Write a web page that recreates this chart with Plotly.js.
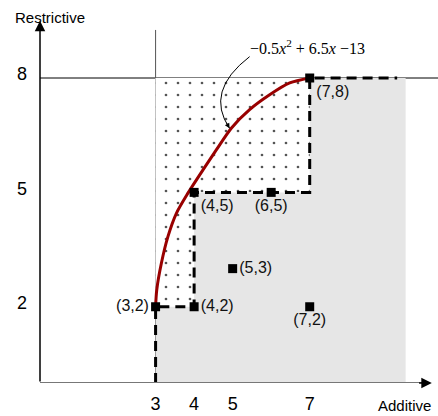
<!DOCTYPE html>
<html>
<head>
<meta charset="utf-8">
<script src="https://cdn.plot.ly/plotly-3.0.1.min.js"></script>
<style>
  html, body { margin: 0; padding: 0; background: #fff; }
  #chart { width: 438px; height: 416px; }
</style>
</head>
<body>
<div id="chart"></div>
<script>
// tick values
const xTicks = [3, 4, 5, 7];
const yTicks = [2, 5, 8];

// labelled points
const ptX = [3, 4, 4, 6, 5, 7, 7];
const ptY = [2, 2, 5, 5, 3, 2, 8];
const ptText = ["(3,2)", "(4,2)", "(4,5)", "(6,5)", "(5,3)", "(7,2)", "(7,8)"];
const ptPos = ["middle left", "middle right", "bottom right", "bottom center",
               "middle right", "bottom center", "bottom right"];

// dashed staircase boundary
const stairX = [3, 3, 4, 4, 7, 7, 9.27];
const stairY = [0, 2, 2, 5, 5, 8, 8];

// red curve
const curveX = [3, 3.03, 3.15, 3.32, 3.54, 3.84, 4.23, 4.58, 4.97, 5.44, 5.96, 6.48, 7];
const curveY = [2, 2.44, 3.14, 3.84, 4.45, 4.98, 5.59, 6.12, 6.69, 7.17, 7.56, 7.87, 8];

// grey region and dotted region
const greyX = [3, 9.49, 9.49, 3, 3];
const greyY = [0, 0, 8, 8, 0];
const dotX = [3, 4, 4, 7, 7, 3, 3];
const dotY = [2, 2, 5, 5, 8, 8, 2];

// guide lines
const topLineY = 8;
const leftLineX = 3;

const font = "Liberation Sans, Arial, sans-serif";

var data = [
  {x: greyX, y: greyY, mode: "lines", fill: "toself", fillcolor: "#e6e6e6",
   line: {width: 0}, hoverinfo: "skip"},
  {x: dotX, y: dotY, mode: "lines", fill: "toself", fillcolor: "#ffffff",
   fillpattern: {shape: ".", fgcolor: "#555", bgcolor: "#ffffff", size: 12, solidity: 0.04},
   line: {width: 0}, hoverinfo: "skip"},
  {x: stairX, y: stairY, mode: "lines",
   line: {color: "#000", width: 3, dash: "10px,6px"}},
  {x: curveX, y: curveY, mode: "lines",
   line: {color: "#990000", width: 3, shape: "spline", smoothing: 0.8}},
  {x: ptX, y: ptY, mode: "markers+text", text: ptText, textposition: ptPos,
   marker: {symbol: "square", size: 9, color: "#000"},
   textfont: {family: font, size: 16, color: "#111"}, cliponaxis: false}
];

var layout = {
  width: 438, height: 416,
  margin: {l: 40, r: 5, t: 17, b: 33},
  showlegend: false,
  paper_bgcolor: "#fff", plot_bgcolor: "#fff",
  xaxis: {range: [0, 10.2], tickvals: xTicks, showgrid: false, zeroline: false,
          showline: false, ticks: "", ticklabelstandoff: 8,
          tickfont: {family: font, size: 18, color: "#000"}},
  yaxis: {range: [0, 9.6], tickvals: yTicks, showgrid: false, zeroline: false,
          showline: false, ticks: "", ticklabelstandoff: 12, ticklabelshift: -4,
          tickfont: {family: font, size: 18, color: "#000"}},
  shapes: [
    {type: "line", xref: "paper", x0: 0, x1: 1.02, yref: "y", y0: topLineY, y1: topLineY,
     line: {color: "#000", width: 1}, layer: "below"},
    {type: "line", xref: "x", x0: leftLineX, x1: leftLineX, yref: "y", y0: 0, y1: 9.26,
     line: {color: "#555", width: 1}, layer: "below"},
    {type: "line", xref: "x", x0: 0, x1: 9.95, yref: "y", y0: 0, y1: 0,
     line: {color: "#777", width: 2}},
    {type: "path", xref: "x", yref: "y", path: "M 5.44,8.56 Q 4.27,7.65 4.92,6.68",
     line: {color: "#000", width: 1}}
  ],
  annotations: [
    {x: 10.17, y: 0, ax: 9.8, ay: 0, axref: "x", ayref: "y", text: "", showarrow: true,
     arrowhead: 2, arrowsize: 1.4, arrowwidth: 1.5, arrowcolor: "#000", standoff: 0},
    {x: 0, y: 9.5, ax: 0, ay: 0, axref: "x", ayref: "y", text: "", showarrow: true,
     arrowhead: 2, arrowsize: 1.4, arrowwidth: 1.5, arrowcolor: "#000", standoff: 0},
    {x: 4.92, y: 6.68, ax: -4, ay: -7, text: "", showarrow: true,
     arrowhead: 2, arrowsize: 1, arrowwidth: 1, arrowcolor: "#000", standoff: 0},
    {x: 6.95, y: 8.82, text: "\u22120.5<i>x</i><sup>2</sup> + 6.5<i>x</i> \u221213",
     showarrow: false, font: {family: "Liberation Serif, Times New Roman, serif", size: 16, color: "#000"}},
    {xref: "paper", yref: "paper", x: 0.025, y: 1.0, xanchor: "center", yanchor: "middle", yshift: 0,
     text: "Restrictive", showarrow: false, font: {family: font, size: 15, color: "#000"}},
    {xref: "paper", yref: "paper", x: 1.0, y: 0, xanchor: "right", yanchor: "top", yshift: -12,
     text: "Additive", showarrow: false, font: {family: font, size: 15, color: "#000"}}
  ]
};

Plotly.newPlot("chart", data, layout, {displayModeBar: false, staticPlot: true});
</script>
</body>
</html>
